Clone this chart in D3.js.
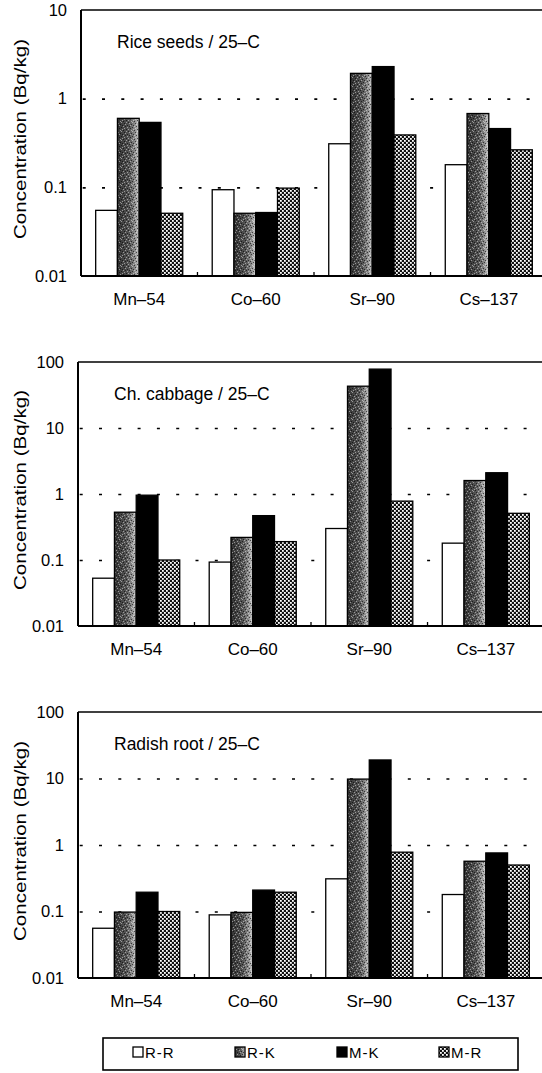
<!DOCTYPE html>
<html>
<head>
<meta charset="utf-8">
<script src="https://cdn.jsdelivr.net/npm/d3@7"></script>
<style>
  body { margin: 0; background: #fff; }
  text { font-family: "Liberation Sans", Arial, sans-serif; fill: #000; }
</style>
</head>
<body>
<script>
// radionuclide concentrations (Bq/kg), one row per isotope, columns follow treatments
var isotopes = ["Mn–54", "Co–60", "Sr–90", "Cs–137"];
var treatments = ["R-R", "R-K", "M-K", "M-R"];

var riceSeeds = [
    [0.055, 0.60, 0.54, 0.051],
    [0.094, 0.051, 0.052, 0.098],
    [0.31, 1.93, 2.3, 0.39],
    [0.18, 0.68, 0.46, 0.265]
];
var chCabbage = [
    [0.053, 0.53, 0.96, 0.10],
    [0.093, 0.22, 0.47, 0.19],
    [0.30, 43, 78, 0.78],
    [0.18, 1.6, 2.1, 0.51]
];
var radishRoot = [
    [0.056, 0.098, 0.195, 0.10],
    [0.089, 0.097, 0.21, 0.195],
    [0.31, 9.8, 19, 0.78],
    [0.18, 0.57, 0.76, 0.50]
];

var ticksTo10 = [0.01, 0.1, 1, 10];
var ticksTo100 = [0.01, 0.1, 1, 10, 100];

var titles = ["Rice seeds / 25–C", "Ch. cabbage / 25–C", "Radish root / 25–C"];
var yLabel = "Concentration (Bq/kg)";

var panels = [
    {values: riceSeeds,  ticks: ticksTo10,  title: titles[0], left: 81, top: 10,  bottom: 276},
    {values: chCabbage,  ticks: ticksTo100, title: titles[1], left: 78, top: 362, bottom: 626},
    {values: radishRoot, ticks: ticksTo100, title: titles[2], left: 78, top: 712, bottom: 978}
];
var plotWidth = 466;

var svg = d3.select("body").append("svg")
    .attr("width", 542)
    .attr("height", 1073);

// fills for the four treatments
var defs = svg.append("defs");

var grad = defs.append("linearGradient").attr("id", "rkGrad");
grad.append("stop").attr("offset", "0%").attr("stop-color", "#333");
grad.append("stop").attr("offset", "55%").attr("stop-color", "#555");
grad.append("stop").attr("offset", "80%").attr("stop-color", "#8c8c8c");
grad.append("stop").attr("offset", "100%").attr("stop-color", "#d0d0d0");

// irregular speckle tile so it doesn't read as hatching
var speck = defs.append("pattern").attr("id", "rkSpeck")
    .attr("patternUnits", "userSpaceOnUse").attr("width", 11).attr("height", 9);
[[0,1],[4,0],[9,2],[2,4],[7,5],[5,3],[10,7],[1,8],[6,8],[3,6],[8,0]].forEach(function(p){
    speck.append("rect").attr("x", p[0]).attr("y", p[1]).attr("width", 1).attr("height", 1)
        .attr("fill", "#000").attr("opacity", 0.6);
});
[[2,0],[6,1],[10,4],[0,5],[4,7],[8,6],[3,2],[9,8],[5,5],[1,3],[7,3]].forEach(function(p){
    speck.append("rect").attr("x", p[0]).attr("y", p[1]).attr("width", 1).attr("height", 1)
        .attr("fill", "#fff").attr("opacity", 0.45);
});

var check = defs.append("pattern").attr("id", "mrCheck")
    .attr("patternUnits", "userSpaceOnUse").attr("width", 4).attr("height", 4);
check.append("rect").attr("width", 4).attr("height", 4).attr("fill", "#111");
check.append("rect").attr("x", 0).attr("y", 0).attr("width", 1.8).attr("height", 1.8).attr("fill", "#fff");
check.append("rect").attr("x", 2).attr("y", 2).attr("width", 1.8).attr("height", 1.8).attr("fill", "#fff");

var fills = {"R-R": "#fff", "R-K": "url(#rkGrad)", "M-K": "#000", "M-R": "url(#mrCheck)"};

panels.forEach(function(p){
    var g = svg.append("g");

    var x = d3.scaleBand()
        .domain(isotopes)
        .range([p.left, p.left + plotWidth])
        .paddingInner(0.253)
        .paddingOuter(0.126);

    var xs = d3.scaleBand()
        .domain(treatments)
        .range([0, x.bandwidth()]);

    var y = d3.scaleLog()
        .domain([0.01, p.ticks[p.ticks.length - 1]])
        .range([p.bottom, p.top]);

    // dashed gridlines
    g.append("g")
        .attr("transform", "translate(" + p.left + ",0)")
        .call(d3.axisLeft(y).tickValues(p.ticks.slice(1, -1)).tickSize(-plotWidth).tickFormat(""))
        .call(function(a){
            a.select(".domain").remove();
            a.selectAll("line")
                .attr("stroke", "#000")
                .attr("stroke-width", 1.6)
                .attr("stroke-dasharray", "3,16.3")
                .attr("stroke-dashoffset", 17.6);
        });

    // bars
    var rows = [];
    p.values.forEach(function(row, i){
        row.forEach(function(v, j){
            rows.push({iso: isotopes[i], tr: treatments[j], v: v});
        });
    });

    var bars = g.selectAll("g.bar")
        .data(rows)
        .enter()
        .append("g")
        .attr("class", "bar");

    bars.append("rect")
        .attr("x", function(d){ return x(d.iso) + xs(d.tr); })
        .attr("y", function(d){ return y(d.v); })
        .attr("width", xs.bandwidth())
        .attr("height", function(d){ return p.bottom - y(d.v); })
        .attr("fill", function(d){ return fills[d.tr]; })
        .attr("stroke", "#000")
        .attr("stroke-width", 1.3);

    bars.filter(function(d){ return d.tr == "R-K"; })
        .append("rect")
        .attr("x", function(d){ return x(d.iso) + xs(d.tr) + 1; })
        .attr("y", function(d){ return y(d.v) + 1; })
        .attr("width", xs.bandwidth() - 2)
        .attr("height", function(d){ return Math.max(0, p.bottom - y(d.v) - 1); })
        .attr("fill", "url(#rkSpeck)");

    // frame
    g.append("line")
        .attr("x1", p.left).attr("x2", p.left + plotWidth)
        .attr("y1", p.top).attr("y2", p.top)
        .attr("stroke", "#000").attr("stroke-width", 1.6);
    g.append("line")
        .attr("x1", p.left).attr("x2", p.left + plotWidth)
        .attr("y1", p.bottom).attr("y2", p.bottom)
        .attr("stroke", "#000").attr("stroke-width", 2);
    g.append("line")
        .attr("x1", p.left).attr("x2", p.left)
        .attr("y1", p.top).attr("y2", p.bottom)
        .attr("stroke", "#000").attr("stroke-width", 2);

    // small inner ticks between groups
    var bounds = isotopes.slice(1).map(function(c){ return x(c) - x.step() * x.paddingInner() / 2; });
    g.selectAll("line.sep")
        .data(bounds)
        .enter()
        .append("line")
        .attr("class", "sep")
        .attr("x1", function(d){ return d; }).attr("x2", function(d){ return d; })
        .attr("y1", p.bottom).attr("y2", p.bottom - 4)
        .attr("stroke", "#000").attr("stroke-width", 1.3);

    // y axis labels
    g.append("g")
        .attr("transform", "translate(" + p.left + ",0)")
        .call(d3.axisLeft(y).tickValues(p.ticks).tickSize(0).tickPadding(14).tickFormat(function(d){ return String(d); }))
        .call(function(a){
            a.select(".domain").remove();
            a.selectAll("text").attr("font-size", 16.5).attr("font-family", "Liberation Sans, Arial, sans-serif");
        });

    // x axis labels
    g.append("g")
        .attr("transform", "translate(0," + p.bottom + ")")
        .call(d3.axisBottom(x).tickSize(0).tickPadding(17))
        .call(function(a){
            a.select(".domain").remove();
            a.selectAll("text").attr("font-size", 17).attr("font-family", "Liberation Sans, Arial, sans-serif");
        });

    g.append("text")
        .attr("x", p.left + 36)
        .attr("y", p.top + 38)
        .attr("font-size", 17.5)
        .text(p.title);

    g.append("text")
        .attr("transform", "translate(20," + ((p.top + p.bottom) / 2 - 4) + ") rotate(-90)")
        .attr("text-anchor", "middle")
        .attr("dominant-baseline", "central")
        .attr("font-size", 17)
        .attr("textLength", 200)
        .attr("lengthAdjust", "spacingAndGlyphs")
        .text(yLabel);
});

// legend
var legendX = d3.scalePoint()
    .domain(treatments)
    .range([133, 439]);

var legend = svg.append("g").attr("class", "legend");
legend.append("rect")
    .attr("x", 103).attr("y", 1038)
    .attr("width", 415).attr("height", 32)
    .attr("fill", "none").attr("stroke", "#000").attr("stroke-width", 1.6);

var item = legend.selectAll("g.item")
    .data(treatments)
    .enter()
    .append("g")
    .attr("class", "item");

item.append("rect")
    .attr("x", function(d){ return legendX(d); })
    .attr("y", 1047)
    .attr("width", 10).attr("height", 10)
    .attr("fill", function(d){ return fills[d]; })
    .attr("stroke", "#000").attr("stroke-width", 1.3);

item.filter(function(d){ return d == "R-K"; })
    .append("rect")
    .attr("x", function(d){ return legendX(d) + 1; })
    .attr("y", 1048)
    .attr("width", 8).attr("height", 8)
    .attr("fill", "url(#rkSpeck)");

item.append("text")
    .attr("x", function(d){ return legendX(d) + 12; })
    .attr("y", 1058)
    .attr("font-size", 15)
    .attr("letter-spacing", 1)
    .text(function(d){ return d; });
</script>
</body>
</html>
